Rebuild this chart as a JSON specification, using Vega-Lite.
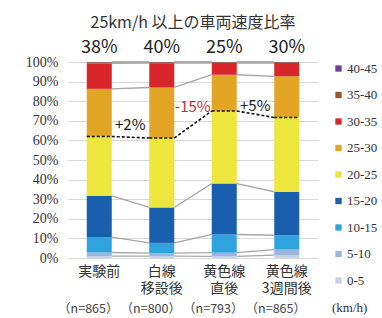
{
  "$schema": "https://vega.github.io/schema/vega-lite/v6.json",
  "width": 250,
  "height": 196,
  "autosize": "none",
  "padding": {"left": 68, "top": 62, "right": 64, "bottom": 60},
  "title": {"text": "25km/h 以上の車両速度比率", "font": "Noto Sans CJK JP", "fontSize": 16, "fontWeight": "normal", "color": "#333333", "offset": 8, "anchor": "middle"},
  "config": {
    "view": {"stroke": null},
    "background": "#ffffff"
  },
  "datasets": {
    "speed": [
      {"cat": "実験前", "ci": 1, "bin": "0-5", "order": 1, "pct": 1.0},
      {"cat": "実験前", "ci": 1, "bin": "5-10", "order": 2, "pct": 1.8},
      {"cat": "実験前", "ci": 1, "bin": "10-15", "order": 3, "pct": 7.9},
      {"cat": "実験前", "ci": 1, "bin": "15-20", "order": 4, "pct": 21.0},
      {"cat": "実験前", "ci": 1, "bin": "20-25", "order": 5, "pct": 30.3},
      {"cat": "実験前", "ci": 1, "bin": "25-30", "order": 6, "pct": 24.3},
      {"cat": "実験前", "ci": 1, "bin": "30-35", "order": 7, "pct": 13.0},
      {"cat": "実験前", "ci": 1, "bin": "35-40", "order": 8, "pct": 0.6},
      {"cat": "実験前", "ci": 1, "bin": "40-45", "order": 9, "pct": 0.1},
      {"cat": "白線移設後", "ci": 2, "bin": "0-5", "order": 1, "pct": 1.0},
      {"cat": "白線移設後", "ci": 2, "bin": "5-10", "order": 2, "pct": 1.5},
      {"cat": "白線移設後", "ci": 2, "bin": "10-15", "order": 3, "pct": 5.2},
      {"cat": "白線移設後", "ci": 2, "bin": "15-20", "order": 4, "pct": 18.1},
      {"cat": "白線移設後", "ci": 2, "bin": "20-25", "order": 5, "pct": 35.4},
      {"cat": "白線移設後", "ci": 2, "bin": "25-30", "order": 6, "pct": 25.8},
      {"cat": "白線移設後", "ci": 2, "bin": "30-35", "order": 7, "pct": 12.4},
      {"cat": "白線移設後", "ci": 2, "bin": "35-40", "order": 8, "pct": 0.5},
      {"cat": "白線移設後", "ci": 2, "bin": "40-45", "order": 9, "pct": 0.1},
      {"cat": "黄色線直後", "ci": 3, "bin": "0-5", "order": 1, "pct": 0.8},
      {"cat": "黄色線直後", "ci": 3, "bin": "5-10", "order": 2, "pct": 1.9},
      {"cat": "黄色線直後", "ci": 3, "bin": "10-15", "order": 3, "pct": 9.3},
      {"cat": "黄色線直後", "ci": 3, "bin": "15-20", "order": 4, "pct": 26.0},
      {"cat": "黄色線直後", "ci": 3, "bin": "20-25", "order": 5, "pct": 37.0},
      {"cat": "黄色線直後", "ci": 3, "bin": "25-30", "order": 6, "pct": 18.5},
      {"cat": "黄色線直後", "ci": 3, "bin": "30-35", "order": 7, "pct": 6.0},
      {"cat": "黄色線直後", "ci": 3, "bin": "35-40", "order": 8, "pct": 0.4},
      {"cat": "黄色線直後", "ci": 3, "bin": "40-45", "order": 9, "pct": 0.1},
      {"cat": "黄色線3週間後", "ci": 4, "bin": "0-5", "order": 1, "pct": 1.5},
      {"cat": "黄色線3週間後", "ci": 4, "bin": "5-10", "order": 2, "pct": 2.8},
      {"cat": "黄色線3週間後", "ci": 4, "bin": "10-15", "order": 3, "pct": 7.3},
      {"cat": "黄色線3週間後", "ci": 4, "bin": "15-20", "order": 4, "pct": 22.2},
      {"cat": "黄色線3週間後", "ci": 4, "bin": "20-25", "order": 5, "pct": 37.9},
      {"cat": "黄色線3週間後", "ci": 4, "bin": "25-30", "order": 6, "pct": 21.0},
      {"cat": "黄色線3週間後", "ci": 4, "bin": "30-35", "order": 7, "pct": 6.8},
      {"cat": "黄色線3週間後", "ci": 4, "bin": "35-40", "order": 8, "pct": 0.4},
      {"cat": "黄色線3週間後", "ci": 4, "bin": "40-45", "order": 9, "pct": 0.1}
    ],
    "tops": [
      {"cat": "実験前", "label": "38%", "n": "（n=865）"},
      {"cat": "白線移設後", "label": "40%", "n": "（n=800）"},
      {"cat": "黄色線直後", "label": "25%", "n": "（n=793）"},
      {"cat": "黄色線3週間後", "label": "30%", "n": "（n=865）"}
    ],
    "notes": [
      {"cat": "実験前", "txt": "+2%", "v": 68},
      {"cat": "白線移設後", "txt": "-15%", "v": 77},
      {"cat": "黄色線直後", "txt": "+5%", "v": 77.5}
    ]
  },
  "encoding": {
    "x": {
      "field": "cat", "type": "nominal",
      "sort": ["実験前", "白線移設後", "黄色線直後", "黄色線3週間後"],
      "scale": {"paddingInner": 0.6, "paddingOuter": 0.3},
      "axis": {
        "title": null, "domain": false, "ticks": false, "labelAngle": 0,
        "labelFont": "Noto Sans CJK JP", "labelFontSize": 14, "labelColor": "#333333",
        "labelLineHeight": 17, "labelPadding": 6, "labelBaseline": "top",
        "labelExpr": "datum.value == '実験前' ? '実験前' : datum.value == '白線移設後' ? ['白線', '移設後'] : datum.value == '黄色線直後' ? ['黄色線', '直後'] : ['黄色線', '3週間後']"
      }
    }
  },
  "layer": [
    {
      "data": {"name": "speed"},
      "transform": [
        {"stack": "pct", "groupby": ["cat"], "sort": [{"field": "order", "order": "ascending"}], "as": ["y0", "y1"]},
        {"window": [{"op": "lead", "field": "y1", "as": "ny"}, {"op": "lead", "field": "cat", "as": "ncat"}], "groupby": ["bin"], "sort": [{"field": "ci", "order": "ascending"}]},
        {"filter": "datum.ncat != null && datum.bin != '20-25'"}
      ],
      "mark": {"type": "rule", "color": "#a6a6a6", "strokeWidth": 1.3, "xOffset": 12.5, "x2Offset": -12.5},
      "encoding": {
        "x2": {"field": "ncat"},
        "y": {"field": "y1", "type": "quantitative", "title": null, "scale": {"domain": [0, 100]},
          "axis": {"values": [0, 10, 20, 30, 40, 50, 60, 70, 80, 90, 100], "labelExpr": "datum.value + '%'", "domain": false, "ticks": false, "gridColor": "#d9d9d9", "gridWidth": 1, "labelFont": "Liberation Serif", "labelFontSize": 14, "labelColor": "#333333", "labelPadding": 10}},
        "y2": {"field": "ny"}
      }
    },
    {
      "data": {"name": "speed"},
      "transform": [
        {"stack": "pct", "groupby": ["cat"], "sort": [{"field": "order", "order": "ascending"}], "as": ["y0", "y1"]}
      ],
      "mark": {"type": "bar"},
      "encoding": {
        "y": {"field": "y0", "type": "quantitative", "title": null, "scale": {"domain": [0, 100]},
          "axis": {"values": [0, 10, 20, 30, 40, 50, 60, 70, 80, 90, 100], "labelExpr": "datum.value + '%'", "domain": false, "ticks": false, "gridColor": "#d9d9d9", "gridWidth": 1, "labelFont": "Liberation Serif", "labelFontSize": 14, "labelColor": "#333333", "labelPadding": 10}},
        "y2": {"field": "y1"},
        "color": {
          "field": "bin", "type": "nominal",
          "scale": {
            "domain": ["40-45", "35-40", "30-35", "25-30", "20-25", "15-20", "10-15", "5-10", "0-5"],
            "range": ["#6b3b9e", "#9a5530", "#d8262a", "#e3a526", "#ede63c", "#1a5fae", "#2ea3de", "#9bb5dc", "#c6d3e6"]
          },
          "legend": {
            "title": "(km/h)", "titleOrient": "bottom", "titleFont": "Liberation Serif", "titleFontSize": 13, "titleFontWeight": "normal", "titleColor": "#333333", "titlePadding": 14,
            "labelFont": "Liberation Serif", "labelFontSize": 13, "labelColor": "#333333", "labelOffset": 2,
            "symbolType": "square", "symbolSize": 40, "symbolStrokeWidth": 0,
            "rowPadding": 12.5, "offset": 14, "padding": 0
          }
        }
      }
    },
    {
      "data": {"name": "speed"},
      "transform": [
        {"stack": "pct", "groupby": ["cat"], "sort": [{"field": "order", "order": "ascending"}], "as": ["y0", "y1"]},
        {"window": [{"op": "lead", "field": "y1", "as": "ny"}, {"op": "lead", "field": "cat", "as": "ncat"}], "groupby": ["bin"], "sort": [{"field": "ci", "order": "ascending"}]},
        {"filter": "datum.ncat != null && datum.bin == '20-25'"}
      ],
      "mark": {"type": "rule", "color": "#111111", "strokeWidth": 1.6, "strokeDash": [3, 2], "xOffset": 12.5, "x2Offset": -12.5},
      "encoding": {
        "x2": {"field": "ncat"},
        "y": {"field": "y1", "type": "quantitative", "title": null, "scale": {"domain": [0, 100]},
          "axis": {"values": [0, 10, 20, 30, 40, 50, 60, 70, 80, 90, 100], "labelExpr": "datum.value + '%'", "domain": false, "ticks": false, "gridColor": "#d9d9d9", "gridWidth": 1, "labelFont": "Liberation Serif", "labelFontSize": 14, "labelColor": "#333333", "labelPadding": 10}},
        "y2": {"field": "ny"}
      }
    },
    {
      "data": {"name": "speed"},
      "transform": [
        {"stack": "pct", "groupby": ["cat"], "sort": [{"field": "order", "order": "ascending"}], "as": ["y0", "y1"]},
        {"filter": "datum.bin == '20-25'"}
      ],
      "mark": {"type": "rule", "color": "#111111", "strokeWidth": 1.6, "strokeDash": [3, 2], "xOffset": -12.5, "x2Offset": 12.5},
      "encoding": {
        "x2": {"field": "cat"},
        "y": {"field": "y1", "type": "quantitative", "title": null, "scale": {"domain": [0, 100]},
          "axis": {"values": [0, 10, 20, 30, 40, 50, 60, 70, 80, 90, 100], "labelExpr": "datum.value + '%'", "domain": false, "ticks": false, "gridColor": "#d9d9d9", "gridWidth": 1, "labelFont": "Liberation Serif", "labelFontSize": 14, "labelColor": "#333333", "labelPadding": 10}}
      }
    },
    {
      "data": {"name": "tops"},
      "mark": {"type": "text", "font": "Noto Sans CJK JP", "fontSize": 18, "color": "#222222", "baseline": "middle", "dy": -14},
      "encoding": {
        "y": {"datum": 100, "type": "quantitative", "title": null, "scale": {"domain": [0, 100]},
          "axis": {"values": [0, 10, 20, 30, 40, 50, 60, 70, 80, 90, 100], "labelExpr": "datum.value + '%'", "domain": false, "ticks": false, "gridColor": "#d9d9d9", "gridWidth": 1, "labelFont": "Liberation Serif", "labelFontSize": 14, "labelColor": "#333333", "labelPadding": 10}},
        "text": {"field": "label"}
      }
    },
    {
      "data": {"name": "tops"},
      "mark": {"type": "text", "font": "Noto Sans CJK JP", "fontSize": 12.5, "color": "#444444", "baseline": "middle", "dy": 51, "xOffset": -11},
      "encoding": {
        "y": {"datum": 0, "type": "quantitative", "title": null, "scale": {"domain": [0, 100]},
          "axis": {"values": [0, 10, 20, 30, 40, 50, 60, 70, 80, 90, 100], "labelExpr": "datum.value + '%'", "domain": false, "ticks": false, "gridColor": "#d9d9d9", "gridWidth": 1, "labelFont": "Liberation Serif", "labelFontSize": 14, "labelColor": "#333333", "labelPadding": 10}},
        "text": {"field": "n"}
      }
    },
    {
      "data": {"name": "notes"},
      "mark": {"type": "text", "font": "Noto Sans CJK JP", "fontSize": 15, "baseline": "middle", "xOffset": 31},
      "encoding": {
        "y": {"field": "v", "type": "quantitative", "title": null, "scale": {"domain": [0, 100]},
          "axis": {"values": [0, 10, 20, 30, 40, 50, 60, 70, 80, 90, 100], "labelExpr": "datum.value + '%'", "domain": false, "ticks": false, "gridColor": "#d9d9d9", "gridWidth": 1, "labelFont": "Liberation Serif", "labelFontSize": 14, "labelColor": "#333333", "labelPadding": 10}},
        "text": {"field": "txt"},
        "color": {"condition": {"test": "indexof(datum.txt, '-') == 0", "value": "#c0303c"}, "value": "#222222"}
      }
    }
  ]
}
